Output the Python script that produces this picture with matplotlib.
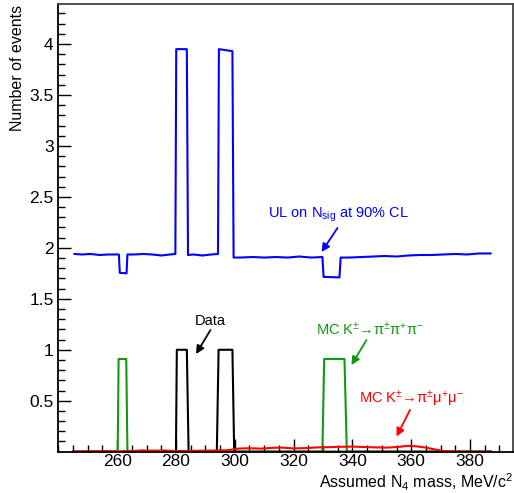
'''
upper limit on N_sig vs assumed N4 mass, with data and MC overlays
'''

import matplotlib
matplotlib.use('Agg')
import matplotlib.pyplot as plt
import numpy as np

plt.rcParams['font.family'] = ['Liberation Sans', 'DejaVu Sans']
plt.rcParams['mathtext.fontset'] = 'custom'
plt.rcParams['mathtext.rm'] = 'Liberation Sans'
plt.rcParams['mathtext.it'] = 'Liberation Sans:italic'
plt.rcParams['mathtext.bf'] = 'Liberation Sans:bold'

# UL on N_sig (blue)
ul_mass = [245.5, 248, 251, 254, 257, 260.6, 260.9, 263.2, 263.5, 266, 269, 272, 275, 278, 279.8,
           280.1, 283.7, 284.1, 286, 289, 292, 294.3, 294.6, 299.2, 299.6, 302, 306, 310, 314,
           318, 322, 326, 329.8, 330.2, 335.6, 336.0, 339, 343, 347, 351, 355, 359, 363, 367,
           371, 375, 379, 383, 387]
ul_vals = [1.94, 1.935, 1.94, 1.93, 1.935, 1.935, 1.755, 1.75, 1.935, 1.935, 1.94, 1.935, 1.925,
           1.935, 1.94, 3.95, 3.95, 1.93, 1.935, 1.925, 1.935, 1.94, 3.95, 3.93, 1.905, 1.905,
           1.91, 1.905, 1.91, 1.905, 1.915, 1.905, 1.91, 1.715, 1.71, 1.905, 1.905, 1.91, 1.915,
           1.92, 1.915, 1.925, 1.93, 1.93, 1.935, 1.94, 1.935, 1.945, 1.945]

# data (black)
data_mass = [245, 280.0, 280.3, 283.7, 284.3, 293.9, 294.5, 299.2, 299.8, 387]
data_vals = [0, 0, 1, 1, 0, 0, 1, 1, 0, 0]

# MC K -> pi pi pi (green)
k3pi_mass = [245, 260.2, 260.5, 263.1, 263.5, 329.8, 330.4, 337.3, 338.1, 387]
k3pi_vals = [0, 0, 0.91, 0.91, 0, 0, 0.91, 0.91, 0, 0]

# MC K -> pi mu mu (red)
kmumu_mass = [245, 250, 255, 260, 265, 268, 272, 276, 280, 285, 290, 295, 298, 301, 305, 309,
              313, 316, 320, 324, 328, 332, 336, 340, 344, 348, 352, 356, 359, 362, 365, 368,
              371, 375, 380, 387]
kmumu_vals = [0.0, 0.002, 0.004, 0.003, 0.006, 0.012, 0.01, 0.012, 0.006, 0.008, 0.01, 0.012,
              0.015, 0.03, 0.034, 0.03, 0.038, 0.04, 0.032, 0.035, 0.042, 0.044, 0.048, 0.05,
              0.046, 0.042, 0.04, 0.048, 0.058, 0.052, 0.04, 0.022, 0.006, 0.002, 0.0, 0.0]

fig = plt.figure(figsize=(5.14, 4.93), dpi=100)
ax = fig.add_axes([0.1123, 0.0838, 0.8863, 0.9075])

green = '#109a10'
ax.plot(k3pi_mass, k3pi_vals, color=green, lw=1.5)
ax.plot(data_mass, data_vals, color='black', lw=1.5)
ax.plot(kmumu_mass, kmumu_vals, color='red', lw=1.5)
ax.plot(ul_mass, ul_vals, color='blue', lw=1.5)

ax.set_xlim(239.8, 394.7)
ax.set_ylim(0, 4.39)

ax.set_xticks(np.arange(260, 381, 20))
ax.set_xticks(np.arange(240, 395, 5), minor=True)
ax.set_yticks(np.arange(0.5, 4.01, 0.5))
ax.set_yticklabels(['0.5', '1', '1.5', '2', '2.5', '3', '3.5', '4'])
ax.set_yticks(np.arange(0.1, 4.39, 0.1), minor=True)
ax.tick_params(which='both', direction='in', top=False, right=False, width=1, labelsize=12.5)
ax.tick_params(which='major', length=9.5)
ax.tick_params(which='minor', length=5)
ax.tick_params(axis='x', pad=2)
ax.tick_params(axis='y', pad=3)
for s in ['left', 'bottom']:
    ax.spines[s].set_linewidth(1.3)
for s in ['top', 'right']:
    ax.spines[s].set_linewidth(1.3)
    ax.spines[s].set_color('#444444')

fig.text(0.998, 0.022, r'Assumed N$_{4}$ mass, MeV/c$^{2}$', ha='right', va='center', fontsize=11.5)
fig.text(0.034, 0.991, 'Number of events', rotation=90, ha='center', va='top', fontsize=11.5)

# labels with arrows (figure pixel coords converted to fractions)
W, H = 514.0, 493.0
def px(x, y):
    return (x / W, 1 - y / H)

arr = dict(arrowstyle='-|>', lw=1.3, mutation_scale=12, shrinkA=0, shrinkB=0)
fig.text(*px(268, 215), r'UL on N$_{\mathrm{sig}}$ at 90% CL', color='blue', fontsize=10.5, va='center')
ax.annotate('', xy=px(321.5, 252), xytext=px(337.5, 228), xycoords='figure fraction',
            textcoords='figure fraction', arrowprops=dict(arr, color='blue'))

fig.text(*px(210, 321), 'Data', color='black', fontsize=10.5, ha='center', va='center')
ax.annotate('', xy=px(196, 354), xytext=px(210.5, 330), xycoords='figure fraction',
            textcoords='figure fraction', arrowprops=dict(arr, color='black'))

fig.text(*px(316, 330), r'MC K$^{\pm}$→π$^{\pm}$π$^{+}$π$^{-}$', color=green, fontsize=10.5, va='center')
ax.annotate('', xy=px(351.5, 365), xytext=px(366.5, 340), xycoords='figure fraction',
            textcoords='figure fraction', arrowprops=dict(arr, color=green))

fig.text(*px(359, 399), r'MC K$^{\pm}$→π$^{\pm}$μ$^{+}$μ$^{-}$', color='red', fontsize=10.5, va='center')
ax.annotate('', xy=px(396.5, 436.5), xytext=px(410, 410), xycoords='figure fraction',
            textcoords='figure fraction', arrowprops=dict(arr, color='red'))

fig.savefig('out.png', dpi=100)
